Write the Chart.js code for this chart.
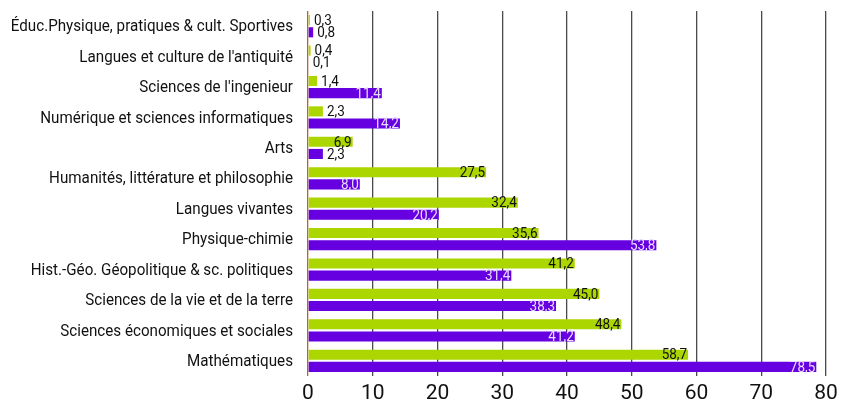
<!DOCTYPE html>
<html lang="fr">
<head>
    <meta charset="UTF-8">
    <title>Spécialités</title>
    <script src="https://cdn.jsdelivr.net/npm/chart.js@4.4.0/dist/chart.umd.min.js"></script>
    <style>
        html, body { margin: 0; padding: 0; background: #fff; }
        #wrap { width: 841px; height: 403px; position: relative; }
    </style>
</head>
<body>
<div id="wrap"><canvas id="chart"></canvas></div>
<script>
const categories = [
    "Éduc.Physique, pratiques & cult. Sportives",
    "Langues et culture de l'antiquité",
    "Sciences de l'ingenieur",
    "Numérique et sciences informatiques",
    "Arts",
    "Humanités, littérature et philosophie",
    "Langues vivantes",
    "Physique-chimie",
    "Hist.-Géo. Géopolitique & sc. politiques",
    "Sciences de la vie et de la terre",
    "Sciences économiques et sociales",
    "Mathématiques"
];
const greenValues = [0.3, 0.4, 1.4, 2.3, 6.9, 27.5, 32.4, 35.6, 41.2, 45.0, 48.4, 58.7];
const purpleValues = [0.8, 0.1, 11.4, 14.2, 2.3, 8.0, 20.2, 53.8, 31.4, 38.3, 41.2, 78.5];
const xTicks = [0, 10, 20, 30, 40, 50, 60, 70, 80];

const FONT = "'Roboto', 'Liberation Sans', sans-serif";

// narrow text: draw with a horizontal squeeze
function narrowText(ctx, txt, x, y, sx) {
    ctx.save();
    ctx.translate(x, y);
    ctx.scale(sx, 1);
    ctx.fillText(txt, 0, 0);
    ctx.restore();
}

// category names on the left (condensed look)
const catLabels = {
    id: 'catLabels',
    afterDraw(chart) {
        const ctx = chart.ctx;
        const yScale = chart.scales.y;
        ctx.save();
        ctx.font = '16.5px ' + FONT;
        ctx.fillStyle = '#111';
        ctx.textAlign = 'right';
        ctx.textBaseline = 'middle';
        categories.forEach((c, i) => {
            narrowText(ctx, c, chart.chartArea.left - 15, yScale.getPixelForTick(i) + 1, 0.92);
        });
        ctx.restore();
    }
};

// labels drawn at bar end, inside if they fit, else just outside
const barLabels = {
    id: 'barLabels',
    afterDatasetsDraw(chart) {
        const ctx = chart.ctx;
        ctx.save();
        ctx.font = '15px ' + FONT;
        ctx.textBaseline = 'middle';
        chart.data.datasets.forEach((ds, di) => {
            const meta = chart.getDatasetMeta(di);
            meta.data.forEach((bar, i) => {
                const txt = ds.data[i].toFixed(1).replace('.', ',');
                const w = ctx.measureText(txt).width * 0.9;
                const barW = bar.x - bar.base;
                if (w + 6 <= barW) {
                    ctx.textAlign = 'right';
                    ctx.fillStyle = ds.labelColor;
                    narrowText(ctx, txt, bar.x - 1, bar.y + 1, 0.9);
                } else {
                    ctx.textAlign = 'left';
                    ctx.fillStyle = '#111';
                    narrowText(ctx, txt, bar.x + 4, bar.y + 1, 0.9);
                }
            });
        });
        ctx.restore();
    }
};

const ctx = document.getElementById('chart').getContext('2d');
new Chart(ctx, {
    type: 'bar',
    data: {
        labels: categories,
        datasets: [{
            data: greenValues,
            backgroundColor: '#acd600',
            labelColor: '#111',
            categoryPercentage: 0.8,
            barPercentage: 0.83
        }, {
            data: purpleValues,
            backgroundColor: '#6600e0',
            labelColor: '#e8dcff',
            categoryPercentage: 0.8,
            barPercentage: 0.83
        }]
    },
    options: {
        indexAxis: 'y',
        responsive: true,
        maintainAspectRatio: false,
        animation: false,
        layout: { padding: { top: 11, right: 15, left: 0, bottom: 0 } },
        plugins: {
            legend: { display: false },
            tooltip: { enabled: false }
        },
        scales: {
            x: {
                min: 0,
                max: 80,
                afterBuildTicks: s => { s.ticks = xTicks.map(v => ({ value: v })); },
                afterFit: s => { s.height = 27; s.paddingLeft = 0; s.paddingRight = 0; },
                border: { display: false },
                grid: {
                    drawTicks: false,
                    color: c => c.tick && c.tick.value === 0 ? '#c0602a' : '#4a4a4a',
                    lineWidth: 1.3
                },
                ticks: {
                    color: '#111',
                    padding: 5,
                    font: { size: 21, family: FONT }
                }
            },
            y: {
                afterFit: s => { s.width = 308; s.paddingTop = 0; s.paddingBottom = 0; },
                border: { display: false },
                grid: { display: false },
                ticks: { display: false }
            }
        }
    },
    plugins: [barLabels, catLabels]
});
</script>
</body>
</html>
